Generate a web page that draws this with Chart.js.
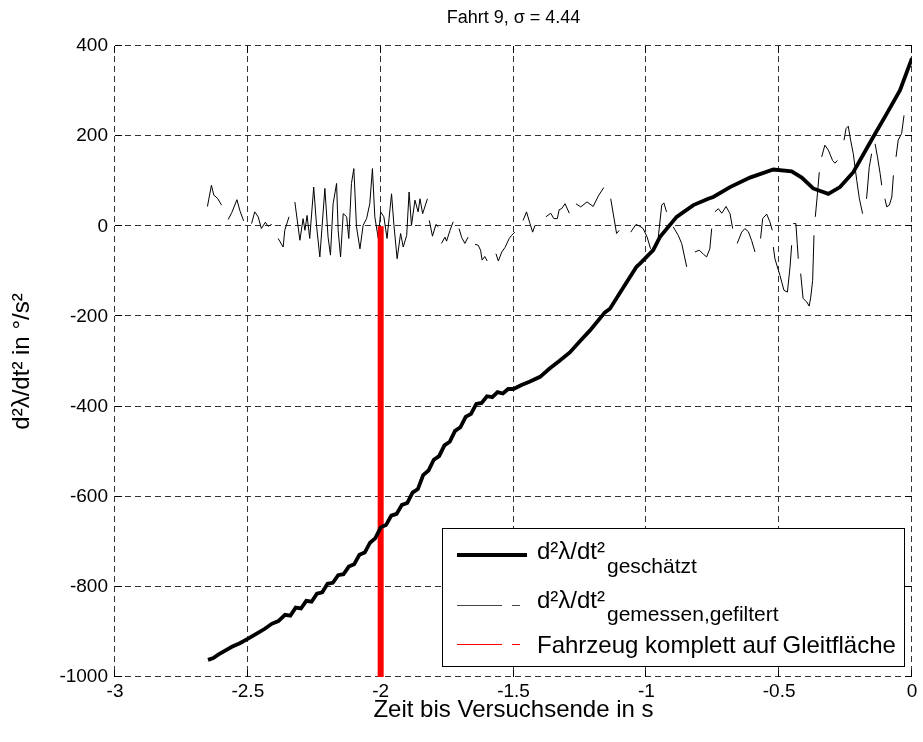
<!DOCTYPE html>
<html lang="de">
<head>
<meta charset="UTF-8">
<title>Fahrt 9</title>
<script src="https://cdn.jsdelivr.net/npm/chart.js"></script>
<style>
    html, body { margin: 0; padding: 0; background: #fff; }
    canvas { display: block; }
</style>
</head>
<body>
<canvas id="chart" width="923" height="742"></canvas>
<script>
    // geschaetzt (thick black)
    const estX = [-2.650, -2.630, -2.610, -2.587, -2.560, -2.530, -2.499, -2.470, -2.436, -2.410, -2.385,
        -2.36, -2.34, -2.32, -2.30, -2.28, -2.26, -2.24, -2.22, -2.20, -2.18, -2.16, -2.14, -2.12, -2.10, -2.08,
        -2.06, -2.04, -2.02, -2.00, -1.98, -1.96, -1.94, -1.92, -1.90, -1.88, -1.86, -1.84, -1.82, -1.80, -1.78,
        -1.76, -1.74, -1.72, -1.70, -1.68, -1.66, -1.64, -1.62, -1.60, -1.58, -1.56, -1.54, -1.52, -1.50,
        -1.47, -1.44, -1.40, -1.363, -1.33, -1.288, -1.25, -1.212, -1.156, -1.137, -1.089, -1.037, -1.024,
        -0.974, -0.949, -0.886, -0.823, -0.767, -0.748, -0.685, -0.610, -0.522, -0.453, -0.415, -0.372,
        -0.315, -0.271, -0.221, -0.146, -0.095, -0.045, 0];
    const estY = [-962, -958, -950, -942, -933, -925, -915, -905, -893, -882, -876,
        -862, -864, -846, -848, -831, -833, -815, -812, -793, -791, -774, -772, -755, -750, -729,
        -724, -702, -692, -668, -663, -642, -638, -618, -614, -591, -583, -552, -542, -518, -510,
        -486, -478, -454, -446, -423, -416, -394, -392, -377, -379, -368, -371, -361, -361,
        -352, -345, -334, -315, -300, -280, -255, -231, -191, -183, -138, -90, -83,
        -53, -24, 21, 47, 61, 65, 87, 108, 126, 122, 108, 84,
        72, 87, 120, 198, 250, 302, 373];

    // gemessen, gefiltert (thin, null = gap)
    const measX = [-2.652, -2.637, -2.628, -2.614, -2.599, null,
        -2.574, -2.560, -2.541, -2.530, -2.516, null,
        -2.486, -2.474, -2.461, -2.449, -2.434, -2.424, -2.410, null,
        -2.386, -2.367, -2.361, -2.345, null,
        -2.323, -2.304, -2.292, -2.285, -2.277, -2.267, -2.252, -2.241, -2.229, -2.210, -2.198, -2.189, -2.179,
        -2.166, -2.160, -2.151, -2.141, -2.128, -2.120, -2.110, -2.101, -2.091, -2.078, -2.066, -2.053, -2.041,
        -2.031, -2.022, -2.009, -2.000, -1.988, -1.976, -1.959, -1.950, -1.938, -1.925, -1.915, -1.902, -1.893,
        -1.884, -1.871, -1.859, -1.852, -1.842, -1.824, null,
        -1.817, -1.805, -1.792, -1.783, null,
        -1.771, -1.758, -1.752, -1.739, -1.727, null,
        -1.705, -1.695, -1.683, -1.671, null,
        -1.645, -1.633, -1.624, -1.618, -1.608, -1.599, null,
        -1.566, -1.557, -1.544, -1.532, -1.516, -1.507, -1.495, null,
        -1.464, -1.451, -1.438, -1.428, -1.419, null,
        -1.378, -1.360, -1.348, -1.335, -1.328, -1.319, -1.306, -1.290, null,
        -1.265, -1.247, -1.223, -1.200, -1.181, -1.160, null,
        -1.134, -1.112, -1.102, null,
        -1.059, -1.039, -1.024, -1.012, -0.997, -0.984, null,
        -0.955, -0.942, -0.934, -0.924, null,
        -0.899, -0.880, -0.867, -0.848, null,
        -0.817, -0.801, -0.785, -0.773, -0.761, -0.754, null,
        -0.742, -0.729, -0.716, -0.700, -0.685, -0.675, null,
        -0.658, -0.641, -0.629, -0.616, -0.604, -0.591, null,
        -0.570, -0.562, -0.547, -0.535, -0.526, null,
        -0.522, -0.516, -0.497, -0.482, -0.469, -0.459, -0.453, null,
        -0.447, -0.437, -0.432, -0.428, null,
        -0.419, -0.410, -0.396, -0.387, -0.381, -0.374, -0.369, null,
        -0.364, -0.356, -0.349, null,
        -0.340, -0.328, -0.315, -0.299, -0.290, -0.281, null,
        -0.256, -0.248, -0.240, -0.231, -0.221, -0.208, -0.198, -0.186, null,
        -0.171, -0.161, -0.152, null,
        -0.139, -0.130, -0.120, -0.114, null,
        -0.102, -0.095, -0.085, -0.076, -0.070, null,
        -0.060, -0.052, -0.039, -0.030];
    const measY = [44, 91, 69, 62, 47, null,
        15, 31, 59, 35, 12, null,
        6, 32, 21, -5, 9, 0, 4, null,
        -27, -46, -9, 21, null,
        54, -31, 17, -9, 24, -27, 87, -1, -68, 84, -24, -64, 50,
        95, -9, -68, 28, 21, -27, 95, 128, -1, -50, 2, 17, 50,
        128, 21, -27, 32, 21, -27, 72, 2, -72, -16, -46, -20, 76,
        2, 58, 32, 61, 28, 61, null,
        13, -22, 4, -1, null,
        -38, -24, -33, -9, 10, null,
        -5, -25, -38, -24, null,
        -40, -42, -53, -75, -67, -77, null,
        -61, -77, -57, -47, -27, -20, -13, null,
        13, 32, 6, -13, 2, null,
        21, 29, 17, 17, 37, 39, 50, 29, null,
        50, 43, 54, 44, 67, 86, null,
        61, -16, -9, null,
        -13, 4, 0, -5, -24, -50, null,
        -24, 47, 52, 32, null,
        -1, -20, -38, -90, null,
        -57, -53, -62, -68, -50, -5, null,
        32, 39, 29, 44, 28, -5, null,
        -38, -13, -5, -12, -31, -57, null,
        -27, 17, 27, 10, -9, null,
        -46, -72, -109, -142, -146, -90, -42, null,
        6, 6, -38, -72, null,
        -105, -160, -168, -177, -157, -120, -20, null,
        21, 72, 120, null,
        154, 180, 169, 146, 140, 146, null,
        191, 217, 222, 191, 161, 102, 61, 28, null,
        61, 131, 161, null,
        183, 154, 117, 91, null,
        61, 43, 47, 65, 113, null,
        154, 191, 206, 246];

    // Fahrzeug komplett auf Gleitflaeche (red marker)
    const markX = [-2, -2];
    const markY = [0, -1000];

    const xTicks = [-3, -2.5, -2, -1.5, -1, -0.5, 0];
    const yTicks = [-1000, -800, -600, -400, -200, 0, 200, 400];

    const titleText = 'Fahrt 9, σ = 4.44';
    const xLabel = 'Zeit bis Versuchsende in s';
    const yLabel = 'd²λ/dt² in °/s²';
    const legendMain = ['d²λ/dt²', 'd²λ/dt²', 'Fahrzeug komplett auf Gleitfläche'];
    const legendSub = ['geschätzt', 'gemessen,gefiltert', ''];
    const legendColors = ['#000', '#444', '#ff0000'];

    const FONT = "'Liberation Sans', Arial, sans-serif";
    Chart.defaults.font.family = FONT;
    Chart.defaults.color = '#000';

    const toPoints = (xs, ys) => {
        let last = xs[0];
        return xs.map((x, i) => {
            if (x !== null) last = x;
            return {x: last, y: ys[i]};
        });
    };

    // dashed grid + inward ticks, MATLAB style
    const frame = {
        id: 'frame',
        beforeDatasetsDraw(chart) {
            const {ctx, chartArea: a, scales: {x, y}} = chart;
            ctx.save();
            ctx.strokeStyle = '#333';
            ctx.lineWidth = 1;
            ctx.setLineDash([6, 4]);
            xTicks.forEach(v => {
                const px = Math.round(x.getPixelForValue(v)) - 0.5;
                ctx.beginPath(); ctx.moveTo(px, a.top); ctx.lineTo(px, a.bottom); ctx.stroke();
            });
            yTicks.forEach(v => {
                const py = Math.round(y.getPixelForValue(v)) - 0.5;
                ctx.beginPath(); ctx.moveTo(a.left, py); ctx.lineTo(a.right, py); ctx.stroke();
            });
            ctx.setLineDash([]);
            ctx.strokeStyle = '#000';
            const t = 7;
            xTicks.forEach(v => {
                const px = Math.round(x.getPixelForValue(v)) - 0.5;
                ctx.beginPath();
                ctx.moveTo(px, a.bottom); ctx.lineTo(px, a.bottom - t);
                ctx.moveTo(px, a.top); ctx.lineTo(px, a.top + t);
                ctx.stroke();
            });
            yTicks.forEach(v => {
                const py = Math.round(y.getPixelForValue(v)) - 0.5;
                ctx.beginPath();
                ctx.moveTo(a.left, py); ctx.lineTo(a.left + t, py);
                ctx.moveTo(a.right, py); ctx.lineTo(a.right - t, py);
                ctx.stroke();
            });
            ctx.restore();
        },
        afterDraw(chart) {
            const {ctx, chartArea: a} = chart;
            ctx.save();
            ctx.fillStyle = '#000';
            ctx.font = '18px ' + FONT;
            ctx.textAlign = 'center';
            ctx.textBaseline = 'middle';
            ctx.fillText(titleText, (a.left + a.right) / 2, 18);
            ctx.restore();
        }
    };

    const legendBox = {
        id: 'legendBox',
        afterDatasetsDraw(chart) {
            const {ctx, chartArea: a} = chart;
            const left = a.right - 470, top = a.bottom - 149, w = 462, h = 138;
            ctx.save();
            ctx.fillStyle = '#fff';
            ctx.fillRect(left, top, w, h);
            ctx.strokeStyle = '#000';
            ctx.lineWidth = 1;
            ctx.strokeRect(left + 0.5, top + 0.5, w, h);

            const lineY = [27, 77, 116];
            const textY = [31, 80, 125];
            const subY = [45, 93, 0];
            legendMain.forEach((txt, i) => {
                ctx.strokeStyle = legendColors[i];
                ctx.beginPath();
                if (i === 0) {
                    ctx.lineWidth = 4;
                    ctx.moveTo(left + 15, top + lineY[i]); ctx.lineTo(left + 85, top + lineY[i]);
                } else {
                    ctx.lineWidth = 1;
                    ctx.moveTo(left + 15, top + lineY[i] + 0.5); ctx.lineTo(left + 60, top + lineY[i] + 0.5);
                    ctx.moveTo(left + 70, top + lineY[i] + 0.5); ctx.lineTo(left + 78, top + lineY[i] + 0.5);
                }
                ctx.stroke();
                ctx.fillStyle = '#000';
                ctx.textAlign = 'left';
                ctx.textBaseline = 'alphabetic';
                ctx.font = '24px ' + FONT;
                ctx.fillText(txt, left + 95, top + textY[i]);
                if (legendSub[i]) {
                    const wMain = ctx.measureText(txt).width;
                    ctx.font = '21px ' + FONT;
                    ctx.fillText(legendSub[i], left + 97 + wMain, top + subY[i]);
                }
            });
            ctx.restore();
        }
    };

    new Chart(document.getElementById('chart'), {
        type: 'line',
        data: {
            datasets: [
                {
                    label: 'geschätzt',
                    data: toPoints(estX, estY),
                    borderColor: '#000',
                    borderWidth: 3.8,
                    order: 0
                },
                {
                    label: 'Fahrzeug komplett auf Gleitfläche',
                    data: toPoints(markX, markY),
                    borderColor: '#ff0000',
                    borderWidth: 6,
                    clip: 0,
                    order: 1
                },
                {
                    label: 'gemessen,gefiltert',
                    data: toPoints(measX, measY),
                    borderColor: '#000',
                    borderWidth: 1,
                    spanGaps: false,
                    order: 2
                }
            ]
        },
        options: {
            responsive: false,
            animation: false,
            events: [],
            elements: {point: {radius: 0}, line: {tension: 0, fill: false}},
            layout: {padding: {top: 46, right: 11, left: 0, bottom: 0}},
            plugins: {legend: {display: false}, tooltip: {enabled: false}, title: {display: false}},
            scales: {
                x: {
                    type: 'linear',
                    min: -3,
                    max: 0,
                    afterBuildTicks: s => { s.ticks = xTicks.map(v => ({value: v})); },
                    afterFit: s => { s.height = 65; },
                    grid: {display: false, drawTicks: false},
                    border: {display: false},
                    ticks: {
                        font: {size: 19},
                        padding: 3,
                        maxRotation: 0,
                        autoSkip: false,
                        callback: v => String(v)
                    },
                    title: {display: true, text: xLabel, font: {size: 24}, padding: {top: 0, bottom: 17}}
                },
                y: {
                    type: 'linear',
                    min: -1000,
                    max: 400,
                    afterBuildTicks: s => { s.ticks = yTicks.map(v => ({value: v})); },
                    afterFit: s => { s.width = 115; },
                    grid: {display: false, drawTicks: false},
                    border: {display: false},
                    ticks: {
                        font: {size: 19},
                        padding: 7,
                        autoSkip: false,
                        callback: v => String(v)
                    },
                    title: {display: true, text: yLabel, font: {size: 24}, padding: {top: 8, bottom: 0}}
                }
            }
        },
        plugins: [frame, legendBox]
    });
</script>
</body>
</html>
